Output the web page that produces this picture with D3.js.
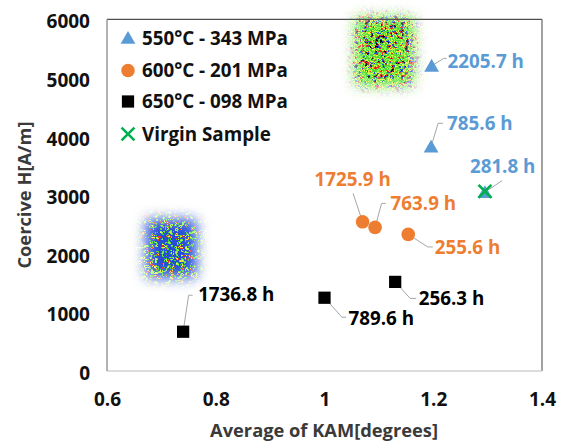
<!DOCTYPE html>
<html>
<head>
<meta charset="utf-8">
<script src="https://cdn.jsdelivr.net/npm/d3@7"></script>
<style>
  body { margin: 0; background: #fff; }
  svg { display: block; font-family: "Open Sans", sans-serif; font-weight: 700; }
</style>
</head>
<body>
<svg id="chart" width="571" height="441"></svg>
<script>
// values
var xTicks = [0.6, 0.8, 1, 1.2, 1.4];
var yTicks = [0, 1000, 2000, 3000, 4000, 5000, 6000];
var seriesNames = ["550°C - 343 MPa", "600°C - 201 MPa", "650°C - 098 MPa", "Virgin Sample"];

var kam550 = [1.197, 1.196, 1.295];
var hc550 = [5205, 3825, 3050];
var hours550 = ["2205.7 h", "785.6 h", "281.8 h"];

var kam600 = [1.070, 1.093, 1.154];
var hc600 = [2545, 2450, 2330];
var hours600 = ["1725.9 h", "763.9 h", "255.6 h"];

var kam650 = [0.740, 1.0, 1.130];
var hc650 = [670, 1250, 1520];
var hours650 = ["1736.8 h", "789.6 h", "256.3 h"];

var kamVirgin = [1.295];
var hcVirgin = [3065];

// label placement (pixel offsets from the point): text start, leader end, elbow length
var labels550 = [[16, -4.5, 12, -7.5, 3], [16, -23.5, 7, -23.5, 5], [-15, -26, 17, -11.5, 0]];
var labels600 = [[-48, -42.5, -9.5, -28.5, 0], [15.5, -24, 6.5, -24, 4], [26.5, 13, 19.5, 12.5, 5]];
var labels650 = [[15, -37.5, 5.5, -36.5, 4], [24, 20.5, 17.5, 19.5, 4], [23.5, 16.5, 15, 16.5, 6]];

var blue = "#5B9BD5", orange = "#ED7D31", green = "#00B050";

var svg = d3.select("#chart");
var defs = svg.append("defs");

var x = d3.scaleLinear().domain([0.6, 1.4]).range([107, 542]);
var y = d3.scaleLinear().domain([0, 6000]).range([371, 19.3]);

// ---- KAM map insets (decoration), drawn with svg noise, edges faded ----
var pal = {
  k: [0.05, 0.05, 0.1], r: [0.9, 0.2, 0.15], y: [0.9, 0.95, 0.25],
  g: [0.3, 0.85, 0.2], b: [0.15, 0.3, 0.85], l: [0.55, 0.95, 0.3]
};
function kamFilter(id, seed, seq, blur) {
  var f = defs.append("filter").attr("id", id)
    .attr("x", -0.35).attr("y", -0.35).attr("width", 1.7).attr("height", 1.7)
    .attr("color-interpolation-filters", "sRGB");
  f.append("feTurbulence").attr("type", "fractalNoise")
    .attr("baseFrequency", 0.2).attr("numOctaves", 2).attr("seed", seed);
  f.append("feColorMatrix").attr("type", "matrix")
    .attr("values", "1 0 0 0 0  1 0 0 0 0  1 0 0 0 0  0 0 0 0 1");
  var ct = f.append("feComponentTransfer").attr("result", "col");
  ["R", "G", "B"].forEach(function(ch, i) {
    ct.append("feFunc" + ch).attr("type", "discrete")
      .attr("tableValues", seq.split("").map(function(c){ return pal[c][i]; }).join(" "));
  });
  f.append("feGaussianBlur").attr("in", "col").attr("stdDeviation", 0.5).attr("result", "col2");
  f.append("feGaussianBlur").attr("in", "SourceAlpha").attr("stdDeviation", blur).attr("result", "fade");
  f.append("feComposite").attr("in", "col2").attr("in2", "fade").attr("operator", "in");
}
kamFilter("kamGreen", 3, "kkkkkrkbrygglgybgrkbkkkk", 7);
kamFilter("kamBlue", 7, "bbbbbbbyrgbbbbbglybbbbbb", 7);

function inset(fill, cx, cy, w, h) {
  svg.append("rect").attr("x", cx - w / 2).attr("y", cy - h / 2)
    .attr("width", w).attr("height", h).attr("fill", "#fff")
    .attr("filter", "url(#" + fill + ")");
}
inset("kamGreen", x(1.11), y(5450), 58, 68);
inset("kamBlue", x(0.718), y(2090), 50, 58);

// ---- frame ----
svg.append("line").attr("x1", 107).attr("x2", 542).attr("y1", 19.3).attr("y2", 19.3)
  .attr("stroke", "#505050").attr("stroke-width", 1.3);
svg.append("line").attr("x1", 542).attr("x2", 542).attr("y1", 19.3).attr("y2", 371)
  .attr("stroke", "#707070").attr("stroke-width", 1.3);
svg.append("line").attr("x1", 107).attr("x2", 542).attr("y1", 371).attr("y2", 371)
  .attr("stroke", "#d0d0d0").attr("stroke-width", 1.3);
svg.append("line").attr("x1", 107).attr("x2", 107).attr("y1", 19.3).attr("y2", 371)
  .attr("stroke", "#8a8a8a").attr("stroke-width", 1.3);

// ---- axes ----
var xAxis = svg.append("g").attr("transform", "translate(0,371)")
  .call(d3.axisBottom(x).tickValues(xTicks).tickSize(0).tickFormat(d3.format("")));
xAxis.select(".domain").remove();
xAxis.selectAll("text").attr("y", 28).attr("dy", "0.35em")
  .attr("font-size", 19).attr("font-family", "Open Sans").attr("font-weight", 700).attr("fill", "#111");

var yAxis = svg.append("g").attr("transform", "translate(107,0)")
  .call(d3.axisLeft(y).tickValues(yTicks).tickSize(0).tickFormat(d3.format("d")));
yAxis.select(".domain").remove();
yAxis.selectAll("text").attr("x", -17).attr("dy", "0.45em")
  .attr("font-size", 19).attr("font-family", "Open Sans").attr("font-weight", 700).attr("fill", "#111");

svg.append("text").attr("x", 324).attr("y", 431).attr("dy", "0.35em")
  .attr("text-anchor", "middle").attr("font-size", 18.3).attr("fill", "#3a3a3a")
  .text("Average of KAM[degrees]");
svg.append("text").attr("transform", "translate(25,195) rotate(-90)").attr("dy", "0.35em")
  .attr("text-anchor", "middle").attr("font-size", 18.3).attr("fill", "#3a3a3a")
  .text("Coercive H[A/m]");

// ---- markers ----
var tri = d3.symbol().type(d3.symbolTriangle).size(95);
var sq = d3.symbol().type(d3.symbolSquare).size(150);
var cross = d3.symbol().type(d3.symbolX).size(110);

function series(xs, ys, hours, lay, color, sym) {
  var pts = xs.map(function(v, i) { return { px: x(v), py: y(ys[i]), t: hours[i], l: lay[i] }; });
  var g = svg.append("g");
  g.selectAll("polyline").data(pts).enter().append("polyline")
    .attr("fill", "none").attr("stroke", "#a6a6a6").attr("stroke-width", 1)
    .attr("points", function(d) {
      var ex = d.px + d.l[2], ey = d.py + d.l[3];
      return [[d.px, d.py], [ex, ey], [ex + d.l[4], ey]].join(" ");
    });
  if (sym) {
    g.selectAll("path.m").data(pts).enter().append("path").attr("class", "m")
      .attr("d", sym).attr("fill", color)
      .attr("transform", function(d) { return "translate(" + d.px + "," + (d.py + (sym === tri ? 1.5 : 0)) + ")"; });
  } else {
    g.selectAll("circle").data(pts).enter().append("circle")
      .attr("cx", function(d) { return d.px; }).attr("cy", function(d) { return d.py; })
      .attr("r", 6.8).attr("fill", color);
  }
  g.selectAll("text").data(pts).enter().append("text")
    .attr("x", function(d) { return d.px + d.l[0]; })
    .attr("y", function(d) { return d.py + d.l[1]; })
    .attr("dy", "0.35em").attr("font-size", 18.8).attr("fill", color)
    .text(function(d) { return d.t; });
}
series(kam550, hc550, hours550, labels550, blue, tri);
series(kam600, hc600, hours600, labels600, orange, null);
series(kam650, hc650, hours650, labels650, "#000", sq);

svg.selectAll("path.virgin").data(kamVirgin).enter().append("path").attr("class", "virgin")
  .attr("d", cross).attr("fill", "none").attr("stroke", green).attr("stroke-width", 2.6)
  .attr("transform", function(d, i) { return "translate(" + x(d) + "," + y(hcVirgin[i]) + ")"; });

// ---- legend ----
var legendSyms = [
  function(s) { s.append("path").attr("d", tri).attr("fill", blue).attr("transform", "translate(0,1.5)"); },
  function(s) { s.append("circle").attr("r", 6.8).attr("fill", orange); },
  function(s) { s.append("path").attr("d", sq).attr("fill", "#000"); },
  function(s) { s.append("path").attr("d", cross).attr("fill", "none").attr("stroke", green).attr("stroke-width", 2.6); }
];
var legendY = [38, 70.5, 101.5, 134];
seriesNames.forEach(function(name, i) {
  var row = svg.append("g").attr("transform", "translate(128," + legendY[i] + ")");
  legendSyms[i](row);
  row.append("text").attr("x", 14).attr("dy", "0.35em").attr("font-size", 18.8).attr("fill", "#111").text(name);
});
</script>
</body>
</html>
